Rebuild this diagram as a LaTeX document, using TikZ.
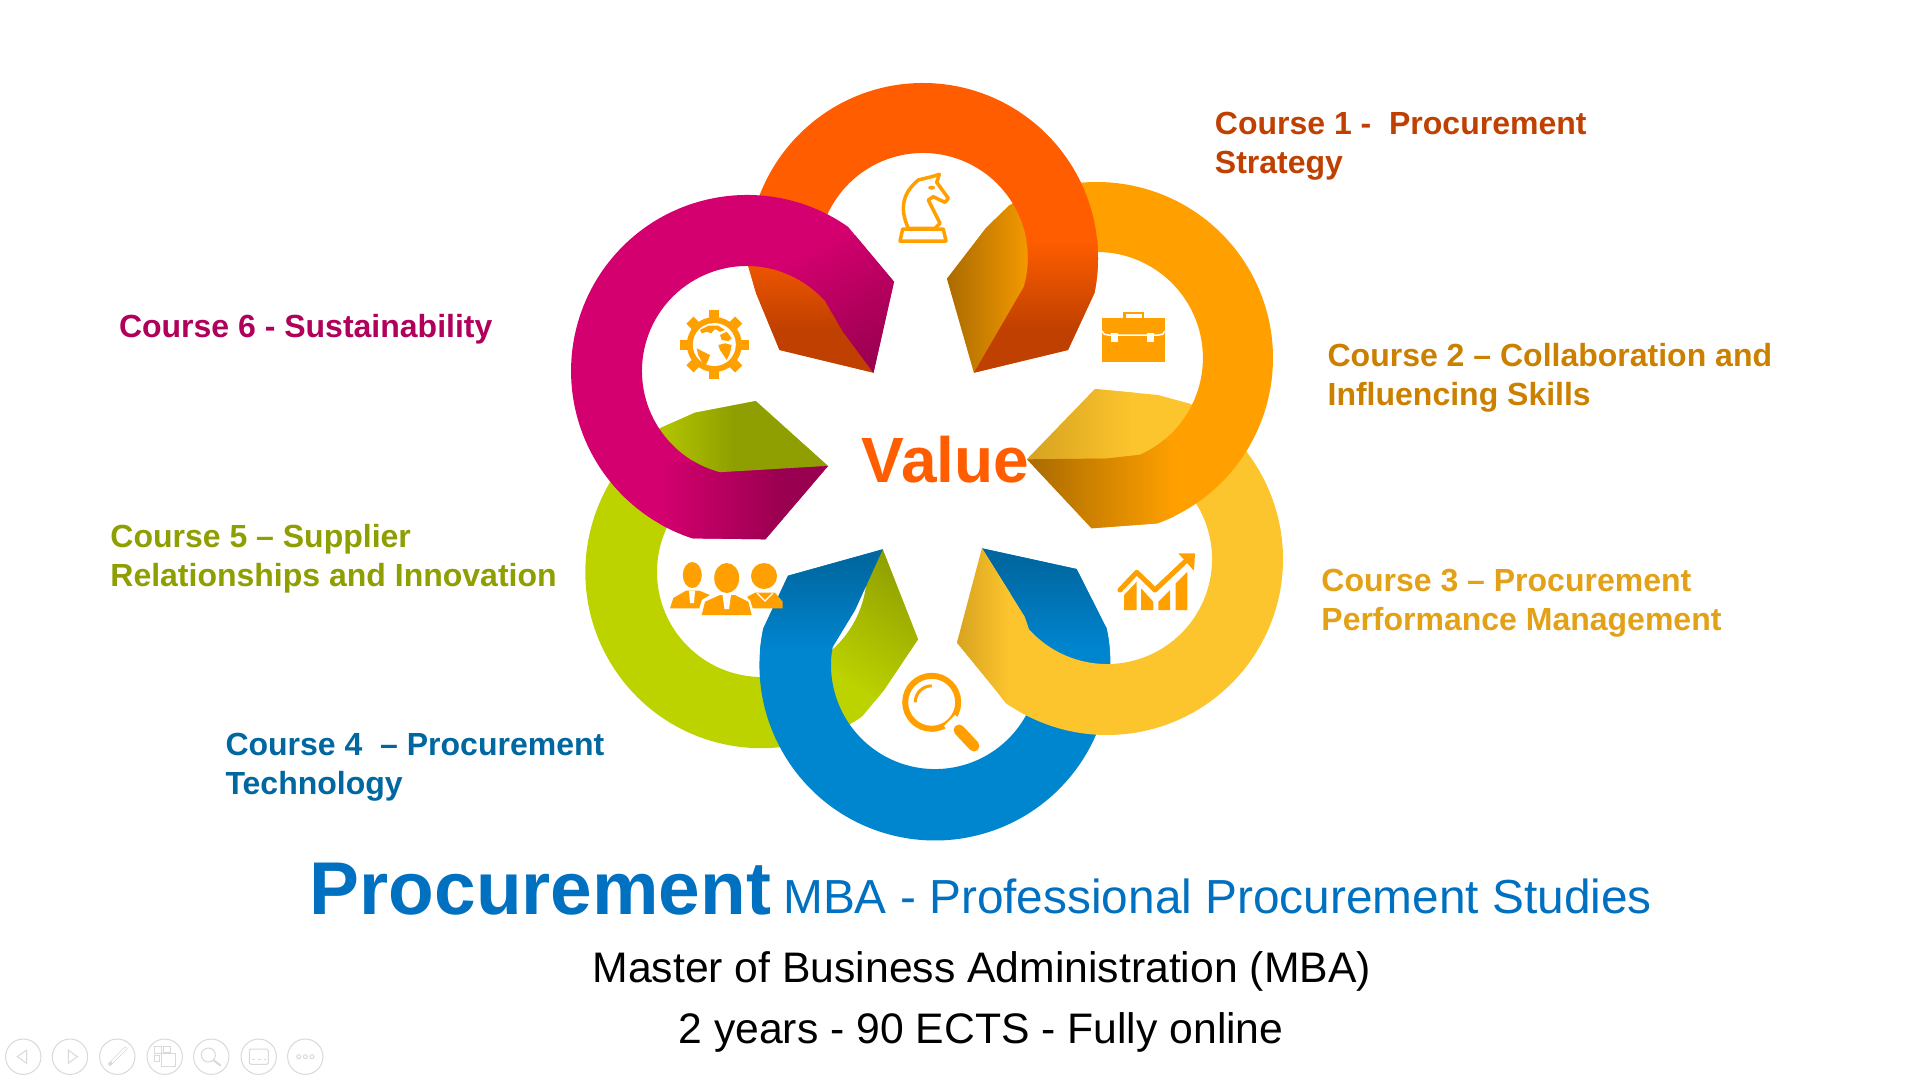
\documentclass[tikz,border=0pt]{standalone}
\usepackage{fontspec}
\setmainfont{Liberation Sans}

\definecolor{orangebase}{HTML}{FF5D00}
\definecolor{orangedark}{HTML}{BF4000}
\definecolor{amberbase}{HTML}{FFA000}
\definecolor{amberdark}{HTML}{A86A00}
\definecolor{yellowbase}{HTML}{FDC52D}
\definecolor{yellowdark}{HTML}{D6A220}
\definecolor{bluebase}{HTML}{0085CF}
\definecolor{bluedark}{HTML}{0067A0}
\definecolor{limebase}{HTML}{BDD300}
\definecolor{limedark}{HTML}{8F9E00}
\definecolor{magentabase}{HTML}{D4006F}
\definecolor{magentadark}{HTML}{99004F}
\definecolor{titleblue}{HTML}{0070C0}
\definecolor{navgray}{HTML}{D9D9D9}

\tikzset{
	coursetext/.style={anchor=west, align=left, inner sep=0pt, font=\fontsize{32}{39.2}\selectfont\bfseries},
	navline/.style={draw=navgray, line width=1pt},
}

% Contours of the six bands
\newcommand{\ringlime}{(882.7,549.3) -- (867,572) arc[start angle=0, end angle=240, radius=105] -- (828,466) -- (755.7,401) -- (695,412.7) -- (660.4,428) arc[start angle=235, end angle=55, radius=176] -- (884,690) -- (918,639.3) -- cycle}
\newcommand{\ringblue}{(788,575.7) -- (763.3,628.5) arc[start angle=192, end angle=-12, radius=175.5] -- (1076.6,569) -- (982,548.3) -- (1037.4,647) arc[start angle=-10, end angle=190, radius=104] -- (855,610) -- (882.7,549.3) -- cycle}
\newcommand{\ringyellow}{(1027,459.3) -- (1095,389) -- (1158,395) -- (1189.6,403.6) arc[start angle=-62, end angle=125, radius=176] -- (993,686.7) -- (957,642.7) -- (982,548.3) -- (1024.7,616.7) -- (1029,629.3) arc[start angle=138, end angle=-60, radius=105] -- cycle}
\newcommand{\ringamber}{(947,278.7) -- (986,228) -- (1009,205.6) arc[start angle=240, end angle=430, radius=176] -- (1091.6,528.3) -- (1027,459.3) -- (1107,458.5) -- (1140,454.8) arc[start angle=66, end angle=-120, radius=106] -- (974,372.7) -- cycle}
\newcommand{\ringorange}{(748.2,265.9) arc[start angle=177.4, end angle=371.5, radius=175] -- (1068,350) -- (974,372.7) -- (1023.9,286.9) arc[start angle=16, end angle=-180, radius=105] -- (873.5,372.7) -- (779.5,350) -- (756,293) -- cycle}
\newcommand{\ringmagenta}{(873.5,372.7) -- (894,281.7) -- (848,226.8) arc[start angle=-55, end angle=-252, radius=176] -- (765.4,539.3) -- (828,466) -- (719.8,472.4) arc[start angle=105, end angle=318, radius=105] -- (843,331.7) -- cycle}

\begin{document}
\begin{tikzpicture}[x=1pt, y=1pt, yscale=-1]
	\useasboundingbox (0,0) rectangle (1920,1080);
	\fill[white] (0,0) rectangle (1920,1080);

	% Lime band
	\fill[limebase] \ringlime;
	\begin{scope}
		\clip \ringlime;
		\shade[left color=limebase!80!limedark, right color=limedark] (655,395) rectangle (735,475);
		\fill[limedark] (735,395) rectangle (835,475);
		\shade[top color=limedark, bottom color=limebase, shading angle=-35] (825,545) rectangle (922,700);
	\end{scope}

	% Blue band
	\fill[bluebase] \ringblue;
	\begin{scope}
		\clip \ringblue;
		\shade[top color=bluedark, bottom color=bluebase] (755,560) rectangle (1112,650);
		\fill[bluedark] (755,540) rectangle (1112,560);
	\end{scope}

	% Yellow band
	\fill[yellowbase] \ringyellow;
	\begin{scope}
		\clip \ringyellow;
		\shade[left color=yellowdark, right color=yellowbase] (1027,380) rectangle (1135,470);
		\shade[left color=yellowdark, right color=yellowbase] (955,540) rectangle (1010,720);
	\end{scope}

	% Amber band
	\fill[amberbase] \ringamber;
	\begin{scope}
		\clip \ringamber;
		\shade[left color=amberdark, right color=amberbase] (945,195) rectangle (1040,380);
		\shade[left color=amberdark, right color=amberbase] (1027,440) rectangle (1175,535);
	\end{scope}

	% Orange band
	\fill[orangebase] \ringorange;
	\begin{scope}
		\clip \ringorange;
		\shade[top color=orangebase, bottom color=orangedark] (740,240) rectangle (1110,330);
		\fill[orangedark] (740,330) rectangle (1110,380);
	\end{scope}

	% Magenta band
	\fill[magentabase] \ringmagenta;
	\begin{scope}
		\clip \ringmagenta;
		\shade[top color=magentabase, bottom color=magentadark, shading angle=30] (780,235) rectangle (900,378);
		\shade[left color=magentabase, right color=magentadark] (660,462) rectangle (785,545);
		\fill[magentadark] (785,462) rectangle (830,545);
	\end{scope}

	% Knight
	\draw[amberbase, line width=3.5pt, line join=round] (908.3,228.3) .. controls (901,212) and (900,195) .. (918.3,180) -- (931.7,176.7) -- (939.3,174.3) -- (936.7,182.3) -- (948.3,198.3) -- (945,202.3) -- (940,200) -- (933.3,196.7) -- (928.3,200) -- (940,223.3) -- (935,228.3) -- cycle;
	\draw[amberbase, line width=3.5pt, line join=round] (902.7,229) -- (943.3,229) -- (946,241) -- (900,241) -- cycle;
	\fill[amberbase] (931.7,187.7) ellipse (3.5 and 2);

	% Briefcase
	\fill[amberbase] (1102,318.3) rectangle (1165,361.7);
	\fill[amberbase] (1123.3,311.7) rectangle (1144,319);
	\fill[white] (1126,314) rectangle (1141.7,318);
	\draw[white, line width=1.5pt] (1102,331) .. controls (1103,334) and (1105,335) .. (1108,335) -- (1159,335) .. controls (1162,335) and (1164,334) .. (1165,331);
	\fill[white] (1111,332.7) rectangle (1118,341.7);
	\fill[white] (1146.7,332.7) rectangle (1154,341.7);

	% Chart with rising arrow
	\fill[amberbase] (1124,595) -- (1136.7,581.7) -- (1136.7,610) -- (1124,610) -- cycle;
	\fill[amberbase] (1141,588.3) -- (1153.3,601.7) -- (1153.3,610) -- (1141,610) -- cycle;
	\fill[amberbase] (1158.3,601.7) -- (1170,590) -- (1170,610) -- (1158.3,610) -- cycle;
	\fill[amberbase] (1175.7,583.3) -- (1187.3,571.7) -- (1187.3,610) -- (1175.7,610) -- cycle;
	\draw[amberbase, line width=5pt, line cap=round, line join=round] (1120,590) -- (1136.7,572.3) -- (1155,590) -- (1185,561.7);
	\fill[amberbase] (1178.3,553.3) -- (1195,553.3) -- (1194,570.7) -- cycle;

	% Magnifier
	\draw[amberbase, line width=6pt] (931.7,702.3) circle (26.5);
	\draw[amberbase, line width=3pt] (915.2,702.3) arc[start angle=180, end angle=270, radius=16.5];
	\draw[amberbase, line width=11pt, line cap=round] (959,730) -- (974,746);
	\fill[white] (949,732) -- (961,720.5) -- (955,715) -- (944,726) -- cycle;

	% People
	\fill[amberbase] (692.3,575) ellipse (9.5 and 13);
	\fill[amberbase] (670,608.3) -- (673.3,598) -- (686,590.7) -- (699.3,590.7) -- (710,595) -- (701.7,600) -- (699.3,608.3) -- cycle;
	\fill[white] (689,591) -- (695,591) -- (694,603) -- (690,603) -- cycle;
	\fill[amberbase] (764,576) circle (13);
	\fill[amberbase] (747.3,596.7) -- (755,592.7) -- (775,592.7) -- (782.7,601.7) -- (782.7,608.3) -- (752.7,608.3) -- cycle;
	\draw[white, line width=1.2pt] (757,593) -- (765,601) -- (773,593);
	\fill[white] (700,606) -- (704,600) -- (718,593) -- (737,593) -- (750,600) -- (754,613) -- (700,613) -- cycle;
	\fill[amberbase] (726.7,578) ellipse (12.5 and 15);
	\fill[amberbase] (701.7,615) -- (705,601.7) -- (720,595) -- (735,595) -- (748.3,601.7) -- (751.7,615) -- cycle;
	\fill[white] (722.5,595) -- (731,595) -- (729,609) -- (724.5,609) -- cycle;

	% Gear with globe
	\foreach \a in {0,45,...,315}{
		\fill[amberbase, rotate around={\a:(714.3,344.5)}] (709.3,310) rectangle (719.3,325);
	}
	\fill[amberbase] (714.3,344.5) circle (27.5);
	\fill[white] (714.3,344.5) circle (21.5);
	\fill[amberbase] (700,330) -- (708.3,325.7) -- (718.3,325.7) -- (725,330) -- (720,331.7) -- (715,329) -- (711,333.3) -- (706.7,331.7) -- (701.7,333.3) -- cycle;
	\fill[amberbase] (720,335) -- (726.7,331.7) -- (731.7,338.3) -- (728.3,341) -- (721.7,340) -- cycle;
	\fill[amberbase] (718.3,345) -- (725,343.3) -- (731.7,345) -- (730,353.3) -- (726.7,360) -- (723.3,355) -- (720,350) -- cycle;
	\fill[amberbase] (696.7,348.3) -- (703.3,351.7) -- (710,355) -- (708.3,360) -- (705,366.7) -- (701.7,361.7) -- (698.3,355) -- cycle;

	% Presentation buttons
	\foreach \bx in {23.3,70,117.3,164.7,211.3,258.7,305.3}{
		\draw[navline] (\bx,1056.7) circle (17.7);
	}
	\draw[navline] (17.3,1056.7) -- (26.7,1050) -- (26.7,1063.3) -- cycle;
	\draw[navline] (77.3,1056.7) -- (68.3,1050) -- (68.3,1063.3) -- cycle;
	\draw[navgray, line width=3.5pt] (109,1065) -- (126.5,1047.5);
	\draw[white, line width=1.8pt] (112,1062) -- (126,1048);
	\draw[navline] (154.3,1046.7) rectangle (161,1053.3);
	\draw[navline] (163.3,1046.7) rectangle (170.7,1052);
	\draw[navline] (154.3,1055) rectangle (159.3,1061.7);
	\draw[navline] (161,1053.3) rectangle (175.7,1066.7);
	\draw[navline] (208.3,1055) circle (7);
	\draw[navgray, line width=2pt] (213.3,1060) -- (220.7,1065.7);
	\draw[navline, rounded corners=1.5pt] (249.3,1049) rectangle (268.3,1064.3);
	\draw[navline, dashed] (252,1059.5) -- (266,1059.5);
	\foreach \dx in {298.7,305.3,312}{
		\draw[navline] (\dx,1056.7) circle (2);
	}

	% Labels
	\node[font=\fontsize{64}{64}\selectfont\bfseries, text=orangebase, anchor=base, inner sep=0pt] (value) at (945.5,482) {Value};

	\node[coursetext, text=orangedark] (course1) at (1214.7,146) {Course 1 -\ \ Procurement\\Strategy};
	\node[coursetext, text=amberdark!60!amberbase] (course2) at (1327.4,377.5) {Course 2 – Collaboration and\\Influencing Skills};
	\node[coursetext, text=yellowdark!70!amberbase] (course3) at (1321.2,603) {Course 3 – Procurement\\Performance Management};
	\node[coursetext, text=bluedark] (course4) at (225.3,767.5) {Course 4\ \ – Procurement\\Technology};
	\node[coursetext, text=limedark] (course5) at (110.2,559) {Course 5 – Supplier\\Relationships and Innovation};
	\node[coursetext, text=magentadark!60!magentabase] (course6) at (118.8,329) {Course 6 - Sustainability};

	\node[font=\fontsize{74.8}{75}\selectfont\bfseries, text=titleblue, anchor=base west, inner sep=0pt] (title) at (309.6,914) {Procurement};
	\node[font=\fontsize{47.8}{48}\selectfont, text=titleblue, anchor=base west, inner sep=0pt] (subtitle) at (783,913.5) {MBA - Professional Procurement Studies};
	\node[font=\fontsize{42.7}{43}\selectfont, anchor=base, inner sep=0pt] (degree) at (981.7,982) {Master of Business Administration (MBA)};
	\node[font=\fontsize{42.7}{43}\selectfont, anchor=base, inner sep=0pt] (format) at (981,1043) {2 years - 90 ECTS - Fully online};
\end{tikzpicture}
\end{document}
